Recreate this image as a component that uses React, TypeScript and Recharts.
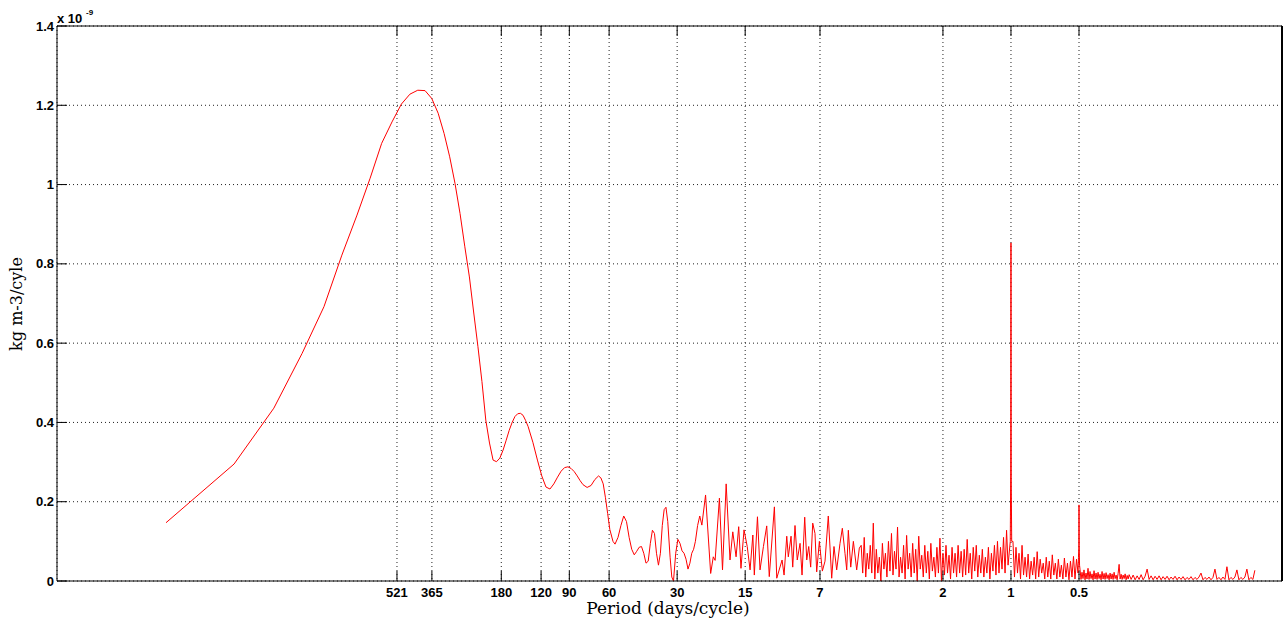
import { LineChart, Line, XAxis, YAxis, CartesianGrid } from 'recharts';

// record length of the hourly series (days), harmonic k sits at k / RECORD_DAYS cycles/day
const RECORD_DAYS = 5480;

// low frequency part, read harmonic by harmonic (units of 1e-9)
const lowHarmonics = [
  1, 2, 3, 4, 5, 6, 7, 8, 9, 10, 11, 12, 13, 14, 15, 16, 17, 18, 19, 20,
  21, 22, 23, 24, 25, 26, 27, 28, 29, 30, 31, 32, 33, 34, 35, 36, 37, 38, 39, 40,
  42, 44, 46, 48, 50, 52, 54, 56, 58, 60, 62, 64, 66, 68, 70, 73, 76, 79, 82, 84,
  86, 88, 90, 92, 95, 97, 100, 103, 106, 109, 112, 115, 118, 121, 124, 127, 130, 133, 136, 139,
  142, 145, 148, 151, 154, 157, 160, 163, 166, 170, 173, 176, 180, 184, 188, 192, 196, 200, 204, 208,
  212, 216, 220, 225, 230, 235, 244, 257, 264, 269, 281, 290, 301, 313, 322, 333, 342, 350, 361, 373,
  384, 395, 401, 414, 425, 440, 455, 467, 492, 504, 532, 543, 558, 567, 583, 593, 607, 621, 639, 652,
  670, 684, 698, 712, 727, 744, 757, 778, 802, 824, 852, 882, 903, 928, 960, 983, 1010, 1028, 1045, 1071,
  1100, 1138, 1169,
];
const lowPower = [
  0.147, 0.295, 0.436, 0.574, 0.692, 0.822, 0.923, 1.016, 1.104, 1.158, 1.203, 1.228, 1.238, 1.237, 1.217, 1.18, 1.129, 1.07, 1.003, 0.927,
  0.843, 0.767, 0.676, 0.591, 0.503, 0.406, 0.348, 0.305, 0.301, 0.31, 0.33, 0.355, 0.38, 0.4, 0.415, 0.422, 0.423, 0.418, 0.405, 0.39,
  0.35, 0.305, 0.265, 0.237, 0.232, 0.245, 0.262, 0.277, 0.286, 0.288, 0.284, 0.276, 0.265, 0.253, 0.243, 0.236, 0.241, 0.256, 0.265, 0.26,
  0.245, 0.21, 0.17, 0.13, 0.1, 0.093, 0.11, 0.14, 0.164, 0.15, 0.11, 0.08, 0.066, 0.075, 0.085, 0.087, 0.07, 0.045, 0.05, 0.095,
  0.128, 0.12, 0.07, 0.04, 0.07, 0.14, 0.18, 0.186, 0.15, 0.06, 0.01, 0.0, 0.07, 0.105, 0.095, 0.076, 0.07, 0.055, 0.03, 0.045,
  0.07, 0.08, 0.1, 0.14, 0.164, 0.141, 0.217, 0.019, 0.061, 0.052, 0.209, 0.028, 0.245, 0.053, 0.124, 0.061, 0.137, 0.032, 0.129, 0.087,
  0.028, 0.116, 0.015, 0.162, 0.028, 0.087, 0.139, 0.011, 0.187, 0.007, 0.053, 0.015, 0.113, 0.061, 0.113, 0.035, 0.14, 0.053, 0.095, 0.015,
  0.161, 0.053, 0.087, 0.035, 0.146, 0.12, 0.023, 0.1, 0.025, 0.05, 0.164, 0.007, 0.087, 0.028, 0.095, 0.133, 0.07, 0.028, 0.128, 0.035,
  0.1, 0.028, 0.083,
];

// dense noisy bands, samples spread evenly (log frequency) between two periods in days
const bandAPeriods = [4.6, 1.03];
const bandAPower = [
  0.09, 0.02, 0.11, 0.01, 0.07, 0.03, 0.09, 0.02, 0.146, 0.005, 0.08, 0.02, 0.06, 0.0, 0.095, 0.03, 0.07, 0.01, 0.1, 0.025,
  0.12, 0.015, 0.075, 0.03, 0.136, 0.01, 0.06, 0.02, 0.09, 0.005, 0.115, 0.03, 0.07, 0.01, 0.095, 0.02, 0.08, 0.0, 0.113, 0.03,
  0.065, 0.01, 0.09, 0.02, 0.075, 0.005, 0.095, 0.025, 0.06, 0.01, 0.085, 0.02, 0.108, 0.0, 0.07, 0.015, 0.09, 0.02, 0.065, 0.005,
  0.085, 0.02, 0.07, 0.01, 0.09, 0.02, 0.075, 0.01, 0.08, 0.015, 0.105, 0.02, 0.07, 0.005, 0.085, 0.025, 0.09, 0.01, 0.065, 0.02,
  0.08, 0.01, 0.06, 0.02, 0.085, 0.005, 0.07, 0.025, 0.09, 0.015, 0.1, 0.02, 0.085, 0.03, 0.11, 0.02, 0.128, 0.04,
];
const diurnalHarmonics = [5440, 5465, 5480, 5495, 5520];
const diurnalPower = [0.1, 0.27, 0.853, 0.26, 0.1];
const bandBPeriods = [0.98, 0.505];
const bandBPower = [
  0.1, 0.01, 0.085, 0.02, 0.07, 0.005, 0.09, 0.015, 0.06, 0.01, 0.068, 0.005, 0.05, 0.015, 0.06, 0.005, 0.074, 0.01, 0.055, 0.02,
  0.045, 0.005, 0.06, 0.01, 0.05, 0.005, 0.066, 0.015, 0.045, 0.005, 0.055, 0.01, 0.04, 0.005, 0.058, 0.01, 0.045, 0.003, 0.05, 0.01,
  0.062, 0.005, 0.055, 0.02,
];
const semidiurnalHarmonics = [10900, 10935, 10960, 10985, 11020];
const semidiurnalPower = [0.06, 0.083, 0.192, 0.09, 0.04];
const bandC1Periods = [0.495, 0.3];
const bandC1Power = [
  0.03, 0.004, 0.022, 0.006, 0.028, 0.003, 0.02, 0.005, 0.032, 0.004, 0.024, 0.006, 0.018, 0.003, 0.026, 0.005, 0.02, 0.004, 0.022, 0.006,
  0.017, 0.003, 0.024, 0.005, 0.019, 0.004, 0.021, 0.006, 0.016, 0.003, 0.02, 0.005, 0.018, 0.004, 0.022, 0.006, 0.015, 0.003, 0.019, 0.042,
  0.005, 0.017, 0.004, 0.015, 0.006, 0.018, 0.003, 0.014, 0.005, 0.016,
];
const bandC2Periods = [0.3, 1 / 12];
const bandC2Power = [
  0.014, 0.004, 0.015, 0.003, 0.013, 0.004, 0.016, 0.003, 0.012, 0.03, 0.004, 0.013, 0.003, 0.012, 0.004, 0.013, 0.003, 0.011, 0.004, 0.012,
  0.003, 0.01, 0.004, 0.012, 0.003, 0.01, 0.004, 0.011, 0.003, 0.009, 0.004, 0.011, 0.003, 0.009, 0.004, 0.01, 0.02, 0.003, 0.009, 0.004,
  0.01, 0.003, 0.009, 0.03, 0.004, 0.009, 0.003, 0.01, 0.004, 0.036, 0.003, 0.009, 0.004, 0.01, 0.028, 0.003, 0.009, 0.004, 0.01, 0.03,
  0.003, 0.009, 0.004, 0.027,
];

const periodTicks = [521, 365, 180, 120, 90, 60, 30, 15, 7, 2, 1, 0.5];
const periodTickLabels = ['521', '365', '180', '120', '90', '60', '30', '15', '7', '2', '1', '0.5'];
const powerTicks = [0, 0.2, 0.4, 0.6, 0.8, 1, 1.2, 1.4];
const powerTickLabels = ['0', '0.2', '0.4', '0.6', '0.8', '1', '1.2', '1.4'];

// x range in cycles/day
const F_MIN = 6.01e-5;
const F_MAX = 15.82;

const TICK_LEN = 10;
const tickFont = { fontFamily: '"Liberation Sans", Arial, sans-serif', fontWeight: 700, fontSize: 13 };

function fromHarmonics(ks: number[], values: number[]) {
  return ks.map((k, i) => ({ freq: k / RECORD_DAYS, power: values[i] }));
}

function spreadBand(periods: number[], values: number[]) {
  const f0 = 1 / periods[0];
  const f1 = 1 / periods[1];
  return values.map((power, i) => ({
    freq: f0 * Math.pow(f1 / f0, i / (values.length - 1)),
    power,
  }));
}

const data = [
  ...fromHarmonics(lowHarmonics, lowPower),
  ...spreadBand(bandAPeriods, bandAPower),
  ...fromHarmonics(diurnalHarmonics, diurnalPower),
  ...spreadBand(bandBPeriods, bandBPower),
  ...fromHarmonics(semidiurnalHarmonics, semidiurnalPower),
  ...spreadBand(bandC1Periods, bandC1Power),
  ...spreadBand(bandC2Periods, bandC2Power).slice(1),
];

const tickFreqs = periodTicks.map((p) => 1 / p);

function periodLabel(freq: number) {
  const i = tickFreqs.findIndex((f) => Math.abs(f - freq) / f < 1e-6);
  return i >= 0 ? periodTickLabels[i] : '';
}

const BOTTOM_MARGIN = 6;
function BottomTick(props: any) {
  const { x, y, payload } = props;
  const axisY = y - BOTTOM_MARGIN;
  return (
    <g>
      <line x1={x} x2={x} y1={axisY} y2={axisY - TICK_LEN} stroke="#000" />
      <text x={x} y={axisY + 15.5} textAnchor="middle" fill="#000" style={tickFont}>
        {periodLabel(payload.value)}
      </text>
    </g>
  );
}

function TopTick(props: any) {
  const { x, y } = props;
  return <line x1={x} x2={x} y1={y} y2={y + TICK_LEN} stroke="#000" />;
}

const LEFT_MARGIN = 3;
function LeftTick(props: any) {
  const { x, y, payload } = props;
  const axisX = x + LEFT_MARGIN;
  const i = powerTicks.indexOf(payload.value);
  return (
    <g>
      <line x1={axisX} x2={axisX + TICK_LEN} y1={y} y2={y} stroke="#000" />
      <text x={x} y={y} dy="0.35em" textAnchor="end" fill="#000" style={tickFont}>
        {i >= 0 ? powerTickLabels[i] : ''}
      </text>
    </g>
  );
}

function RightTick(props: any) {
  const { x, y } = props;
  return <line x1={x} x2={x - TICK_LEN} y1={y} y2={y} stroke="#000" />;
}

export default function App() {
  return (
    <div style={{ position: 'absolute', left: 0, top: 0, width: 1284, height: 622, background: '#fff' }}>
      <LineChart width={1284} height={622} data={data} margin={{ top: 25, right: 0, bottom: 0, left: 0 }}>
        <CartesianGrid stroke="#222" strokeDasharray="1 3" />
        <XAxis
          dataKey="freq"
          type="number"
          scale="log"
          domain={[F_MIN, F_MAX]}
          allowDataOverflow
          ticks={tickFreqs}
          interval={0}
          height={41}
          tickSize={0}
          tickMargin={BOTTOM_MARGIN}
          tick={<BottomTick />}
          axisLine={{ stroke: '#000' }}
        />
        <XAxis
          xAxisId="top"
          orientation="top"
          dataKey="freq"
          type="number"
          scale="log"
          domain={[F_MIN, F_MAX]}
          allowDataOverflow
          ticks={tickFreqs}
          interval={0}
          height={1}
          tickSize={0}
          tickMargin={0}
          tick={<TopTick />}
          axisLine={{ stroke: '#000' }}
        />
        <YAxis
          type="number"
          domain={[0, 1.4]}
          ticks={powerTicks}
          interval={0}
          width={57}
          tickSize={0}
          tickMargin={LEFT_MARGIN}
          tick={<LeftTick />}
          axisLine={{ stroke: '#000' }}
        />
        <YAxis
          yAxisId="right"
          orientation="right"
          type="number"
          domain={[0, 1.4]}
          ticks={powerTicks}
          interval={0}
          width={2}
          tickSize={0}
          tickMargin={0}
          tick={<RightTick />}
          axisLine={{ stroke: '#000', strokeWidth: 2 }}
        />
        <Line
          dataKey="power"
          type="linear"
          stroke="#ff0000"
          strokeWidth={1}
          dot={false}
          isAnimationActive={false}
        />
      </LineChart>
      <svg width={1284} height={622} style={{ position: 'absolute', left: 0, top: 0, pointerEvents: 'none' }}>
        <text x={57} y={23} fill="#000" style={{ ...tickFont, fontSize: 13 }}>x 10</text>
        <text x={86} y={15} fill="#000" style={{ ...tickFont, fontSize: 8 }}>-9</text>
        <text
          x={668}
          y={613.5}
          textAnchor="middle"
          fill="#000"
          style={{ fontFamily: '"DejaVu Serif", serif', fontSize: 17 }}
        >
          Period (days/cycle)
        </text>
        <text
          transform="translate(22, 304) rotate(-90)"
          textAnchor="middle"
          fill="#000"
          style={{ fontFamily: '"DejaVu Serif", serif', fontSize: 16 }}
        >
          kg m-3/cyle
        </text>
      </svg>
    </div>
  );
}
